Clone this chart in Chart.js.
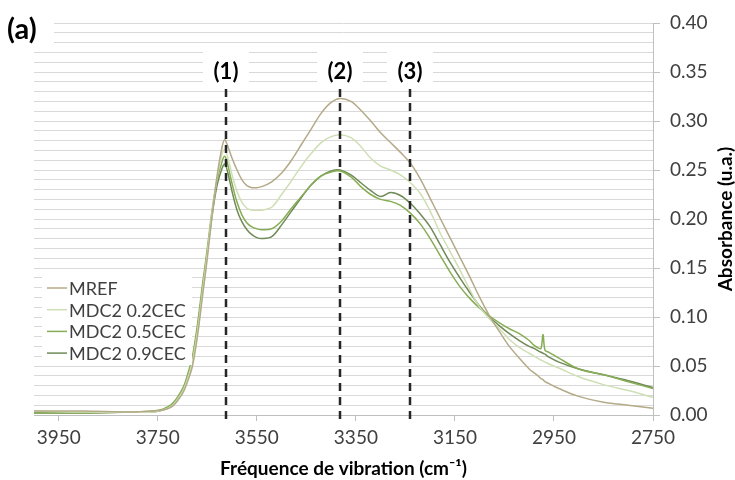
<!DOCTYPE html>
<html lang="fr">

<head>
    <meta charset="UTF-8">
    <title>Spectres IR - (a)</title>
    <script src="https://cdn.jsdelivr.net/npm/chart.js"></script>
    <style>
        html, body {
            margin: 0;
            padding: 0;
            background: #fff;
        }
    </style>
</head>

<body>

    <canvas id="grafSpectre" width="735" height="480"></canvas>

    <script>
        // Données
        const noms = ['MREF', 'MDC2 0.2CEC', 'MDC2 0.5CEC', 'MDC2 0.9CEC'];
        const couleurs = ['#b4aa88', '#cfdfb5', '#86ad55', '#6f8a57'];

        const frequences = [4000, 3900, 3800, 3760, 3740, 3720, 3700, 3690, 3680, 3670,
            3660, 3650, 3640, 3630, 3620, 3615, 3610, 3600, 3590, 3580,
            3570, 3560, 3550, 3540, 3520, 3500, 3480, 3460, 3440, 3420,
            3400, 3382, 3360, 3340, 3320, 3300, 3280, 3260, 3240, 3220,
            3200, 3180, 3160, 3140, 3120, 3100, 3080, 3060, 3040, 3020,
            3000, 2990, 2980, 2976, 2972, 2968, 2960, 2940, 2900, 2850,
            2800, 2750];

        const mref = [.004, .004, .003, .004, .005, .009, .022, .034, .050, .080,
            .120, .160, .205, .245, .274, .281, .276, .262, .250, .240,
            .234, .232, .232, .233, .238, .247, .260, .276, .292, .308,
            .319, .323, .320, .311, .300, .288, .278, .268, .257, .241,
            .221, .201, .181, .161, .141, .120, .101, .085, .070, .058,
            .047, .043, .039, .037, .036, .034, .032, .027, .019, .013,
            .010, .007];

        const mdc02 = [.004, .003, .003, .003, .005, .010, .024, .037, .055, .085,
            .125, .165, .208, .243, .267, .271, .265, .245, .228, .217,
            .211, .209, .209, .209, .212, .225, .239, .254, .267, .278,
            .284, .286, .283, .274, .262, .254, .250, .245, .237, .226,
            .208, .186, .167, .148, .128, .110, .098, .088, .077, .069,
            .063, .060, .057, .056, .055, .054, .052, .048, .039, .031,
            .025, .018];

        const mdc05 = [.002, .002, .003, .004, .006, .012, .027, .041, .060, .092,
            .132, .170, .210, .240, .259, .264, .258, .236, .217, .204,
            .196, .192, .190, .189, .190, .198, .211, .223, .235, .244,
            .248, .249, .243, .233, .225, .220, .218, .214, .206, .195,
            .180, .163, .146, .131, .119, .109, .101, .094, .088, .083,
            .076, .071, .068, .068, .082, .066, .064, .058, .047, .041,
            .034, .027];

        const mdc09 = [.002, .002, .003, .003, .005, .010, .025, .038, .056, .087,
            .127, .166, .205, .235, .252, .256, .250, .228, .209, .197,
            .189, .184, .181, .180, .182, .194, .208, .222, .235, .244,
            .249, .250, .245, .237, .229, .223, .227, .224, .216, .205,
            .192, .174, .156, .140, .125, .111, .100, .091, .083, .076,
            .070, .068, .065, .064, .063, .062, .059, .054, .047, .041,
            .035, .028];

        const series = [mref, mdc02, mdc05, mdc09];

        const ticksX = [3950, 3750, 3550, 3350, 3150, 2950, 2750];
        const marqueurs = [3613, 3382, 3240];
        const etiquettesMarqueurs = ['(1)', '(2)', '(3)'];

        const police = 'Lato, "Open Sans", sans-serif';

        // Annotations, légende interne et titre vertical
        const annotations = {
            id: 'annotations',
            afterDatasetsDraw(chart) {
                const ctx = chart.ctx;
                const sx = chart.scales.x;
                const area = chart.chartArea;
                ctx.save();

                // (a)
                ctx.fillStyle = '#fff';
                ctx.fillRect(0, 0, 54, 47);
                ctx.fillStyle = '#000';
                ctx.font = 'bold 29px ' + police;
                ctx.textBaseline = 'middle';
                ctx.textAlign = 'left';
                ctx.fillText('(a)', 7, 30);

                // lignes pointillées (1) (2) (3)
                marqueurs.forEach((v, i) => {
                    const px = Math.round(sx.getPixelForValue(v));
                    ctx.fillStyle = '#fff';
                    ctx.fillRect(px - 23, 48, 46, 38);
                    ctx.fillStyle = '#000';
                    ctx.font = 'bold 22px ' + police;
                    ctx.textAlign = 'center';
                    ctx.fillText(etiquettesMarqueurs[i], px, 72);

                    ctx.strokeStyle = '#262626';
                    ctx.lineWidth = 2.5;
                    ctx.setLineDash([8, 6]);
                    ctx.beginPath();
                    ctx.moveTo(px, 89);
                    ctx.lineTo(px, area.bottom + 6);
                    ctx.stroke();
                });
                ctx.setLineDash([]);

                // légende
                ctx.fillStyle = '#fff';
                ctx.fillRect(42, 274, 150, 91);
                ctx.font = '18px ' + police;
                ctx.textAlign = 'left';
                noms.forEach((n, i) => {
                    const y = 288 + i * 21.7;
                    ctx.strokeStyle = couleurs[i];
                    ctx.lineWidth = 1.5;
                    ctx.beginPath();
                    ctx.moveTo(47, y);
                    ctx.lineTo(67, y);
                    ctx.stroke();
                    ctx.fillStyle = '#404040';
                    ctx.fillText(n, 69, y + 1);
                });

                // titre de l'axe vertical (lu de bas en haut)
                ctx.translate(726, (area.top + area.bottom) / 2);
                ctx.rotate(-Math.PI / 2);
                ctx.fillStyle = '#000';
                ctx.font = 'bold 19px ' + police;
                ctx.textAlign = 'center';
                ctx.fillText('Absorbance (u.a.)', 0, 0);
                ctx.restore();
            }
        };

        new Chart(grafSpectre, {
            type: 'line',
            data: {
                datasets: series.map((s, i) => ({
                    label: noms[i],
                    data: frequences.map((f, j) => ({ x: f, y: s[j] })),
                    borderColor: couleurs[i],
                    borderWidth: 1.5,
                    pointRadius: 0,
                    fill: false,
                    tension: 0.35
                }))
            },
            options: {
                responsive: false,
                animation: false,
                devicePixelRatio: 1,
                layout: { padding: { left: 34, top: 23, right: 0, bottom: 0 } },
                plugins: {
                    legend: { display: false },
                    tooltip: { enabled: false }
                },
                scales: {
                    x: {
                        type: 'linear',
                        reverse: true,
                        min: 2750,
                        max: 4000,
                        afterBuildTicks: s => { s.ticks = ticksX.map(v => ({ value: v })); },
                        afterFit: s => { s.height = 65; },
                        grid: { drawOnChartArea: false, tickLength: 6, color: '#bfbfbf' },
                        border: { color: '#bfbfbf' },
                        ticks: {
                            autoSkip: false,
                            maxRotation: 0,
                            padding: 5,
                            color: '#404040',
                            font: { family: police, size: 19 },
                            callback: v => String(v)
                        },
                        title: {
                            display: true,
                            text: 'Fréquence de vibration (cm⁻¹)',
                            color: '#000',
                            padding: { top: 1, bottom: 0 },
                            font: { family: police, size: 19, weight: 'bold' }
                        }
                    },
                    y: {
                        position: 'right',
                        min: 0,
                        max: 0.4,
                        afterFit: s => { s.width = 82; },
                        grid: {
                            color: '#d9d9d9',
                            tickLength: 7,
                            tickColor: c => (c.tick && Math.round(c.tick.value * 100) % 5 === 0) ? '#bfbfbf' : 'rgba(0,0,0,0)'
                        },
                        border: { color: '#bfbfbf' },
                        ticks: {
                            stepSize: 0.01,
                            autoSkip: false,
                            padding: 10,
                            color: '#404040',
                            font: { family: police, size: 19 },
                            callback: v => Math.round(v * 100) % 5 === 0 ? v.toFixed(2) : ''
                        }
                    }
                }
            },
            plugins: [annotations]
        });
    </script>

</body>

</html>
